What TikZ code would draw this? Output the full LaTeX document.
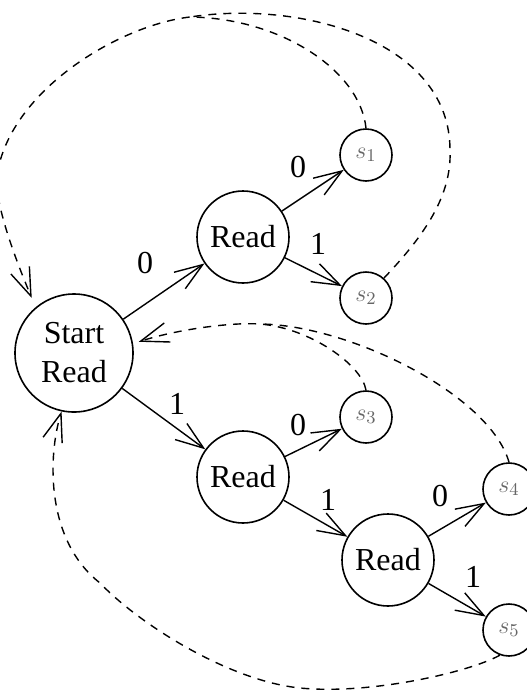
\documentclass[tikz,border=0pt]{standalone}
\usepackage{fontspec}
\setmainfont{Liberation Serif}
\usetikzlibrary{arrows.meta}
\begin{document}
\begin{tikzpicture}[x=0.5pt,y=-0.5pt,
  every node/.style={inner sep=0pt},
  st/.style={circle,draw,line width=0.8pt,font=\fontsize{16}{19.5}\selectfont,align=center},
  bigst/.style={st,minimum size=59pt},
  readst/.style={st,minimum size=46pt},
  fin/.style={circle,draw,line width=0.8pt,minimum size=26pt,font=\fontsize{13}{15}\selectfont,text=black!60},
  lbl/.style={font=\fontsize{16}{19}\selectfont},
  tr/.style={line width=0.7pt,-{Straight Barb[length=14pt,width=10pt]}},
  back/.style={line width=0.7pt,dash pattern=on 4pt off 3.5pt},
  backarr/.style={back,-{Straight Barb[length=14pt,width=10pt]}}
]
\useasboundingbox (0,0) rectangle (526,697);
\node[bigst] (S) at (74,353) {Start\\Read};
\node[readst] (R1) at (243,237) {Read};
\node[readst] (R2) at (243,477) {Read};
\node[readst] (R3) at (388,560) {Read};
\node[fin] (s1) at (366,155) {$s_1$};
\node[fin] (s2) at (366,298) {$s_2$};
\node[fin] (s3) at (366,417) {$s_3$};
\node[fin] (s4) at (509,489) {$s_4$};
\node[fin] (s5) at (509,630) {$s_5$};

\draw[tr] (S) -- (R1);
\draw[tr] (S) -- (R2);
\draw[tr] (R1) -- (s1);
\draw[tr] (R1) -- (s2);
\draw[tr] (R2) -- (s3);
\draw[tr] (R2) -- (R3);
\draw[tr] (R3) -- (s4);
\draw[tr] (R3) -- (s5);

\node[lbl] (l1) at (145,263) {0};
\node[lbl] (l2) at (298,167) {0};
\node[lbl] (l3) at (318,244) {1};
\node[lbl] (l4) at (177,404) {1};
\node[lbl] (l5) at (298,425) {0};
\node[lbl] (l6) at (328,500) {1};
\node[lbl] (l7) at (440,496) {0};
\node[lbl] (l8) at (473,577) {1};

\coordinate (m1) at (190,17);
\coordinate (m2) at (260,324);
\coordinate (a1) at (-3,175);
\coordinate (b1) at (450,150);
\coordinate (e1) at (300,688);
\coordinate (e2) at (100,583);

% s1 and s2 back to start
\draw[backarr,shorten >=5pt] (s1.north) .. controls (360,70) and (280,18) .. (m1)
   .. controls (120,25) and (10,90) .. (a1)
   .. controls (-6,205) and (18,265) .. (S.130);
\draw[back] (s2.48) .. controls (425,235) and (452,195) .. (b1)
   .. controls (450,40) and (300,0) .. (m1);
% s3 and s4 back to start
\draw[backarr,shorten >=3pt] (s3.north) .. controls (362,365) and (310,328) .. (m2)
   .. controls (230,322) and (175,330) .. (S.9);
\draw[back] (s4.north) .. controls (490,395) and (350,325) .. (m2);
% s5 back to start
\draw[backarr] (s5.250) .. controls (470,672) and (370,695) .. (e1)
   .. controls (230,681) and (140,625) .. (e2)
   .. controls (45,540) and (48,455) .. (S.258);
\end{tikzpicture}
\end{document}
